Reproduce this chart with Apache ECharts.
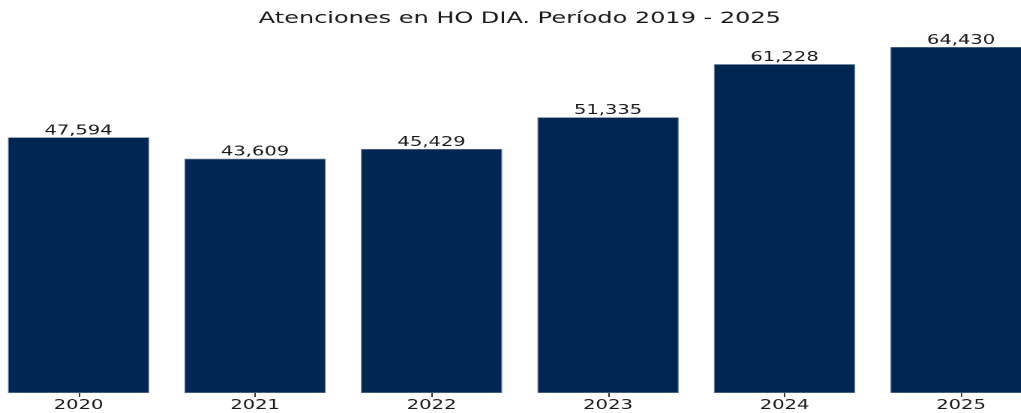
<!DOCTYPE html>
<html>
<head>
<meta charset="utf-8">
<script src="https://cdn.jsdelivr.net/npm/echarts@6/dist/echarts.min.js"></script>
<style>
	html, body { margin: 0; padding: 0; background: #ffffff; overflow: hidden; }
	#wrap { width: 1021px; height: 413px; overflow: hidden; position: relative; }
	/* la imagen original está estirada en horizontal: se dibuja estrecha y se escala */
	#chart { position: absolute; left: 0; top: 0; width: 706px; height: 413px;
		transform: translateX(-9.7px) scaleX(1.5); transform-origin: 0 0; }
</style>
</head>
<body>
<div id="wrap"><div id="chart"></div></div>
<script>
var years = ['2020', '2021', '2022', '2023', '2024', '2025'];
var atenciones = [47594, 43609, 45429, 51335, 61228, 64430];

var titleText = 'Atenciones en HO DIA. Período 2019 - 2025';
var barColor = '#022654';
var textColor = '#1a1a1a';

//formato con separador de miles
function fmtMiles(v) {
	return Number(v).toLocaleString('en-US');
}

function initChart(chartId) {
	var chart = echarts.init(document.getElementById(chartId), null, {
		renderer: 'canvas',
		devicePixelRatio: 2
	});
	return chart;
}

//dibujar barras
function drawBarChart(chart) {
	var option = {
		animation: false,
		backgroundColor: '#ffffff',
		textStyle: {
			fontFamily: 'DejaVu Sans'
		},
		title: {
			text: titleText,
			left: 353,
			top: 11,
			padding: 0,
			textAlign: 'center',
			textStyle: {
				fontFamily: 'DejaVu Sans',
				fontSize: 16,
				fontWeight: 'normal',
				color: textColor
			}
		},
		grid: {
			left: 0,
			right: 0,
			top: 47,
			bottom: 20,
			containLabel: false
		},
		xAxis: {
			type: 'category',
			data: years,
			axisLine: { show: false },
			axisTick: {
				show: true,
				alignWithLabel: true,
				length: 4,
				lineStyle: { color: '#333333', width: 1 }
			},
			axisLabel: {
				margin: 6,
				fontSize: 13,
				color: textColor,
				fontFamily: 'DejaVu Sans'
			}
		},
		yAxis: {
			type: 'value',
			min: 0,
			max: 64430,
			show: false,
			splitLine: { show: false }
		},
		series: [{
			type: 'bar',
			data: atenciones,
			barCategoryGap: '20%',
			itemStyle: {
				color: barColor,
				borderColor: '#6a7e9a',
				borderWidth: 0.6
			},
			label: {
				show: true,
				position: 'top',
				distance: 0,
				fontSize: 13,
				color: textColor,
				fontFamily: 'DejaVu Sans',
				formatter: function(p) {
					return fmtMiles(p.value);
				}
			}
		}]
	};
	chart.setOption(option, true);
}

var chart = initChart('chart');
drawBarChart(chart);
</script>
</body>
</html>
